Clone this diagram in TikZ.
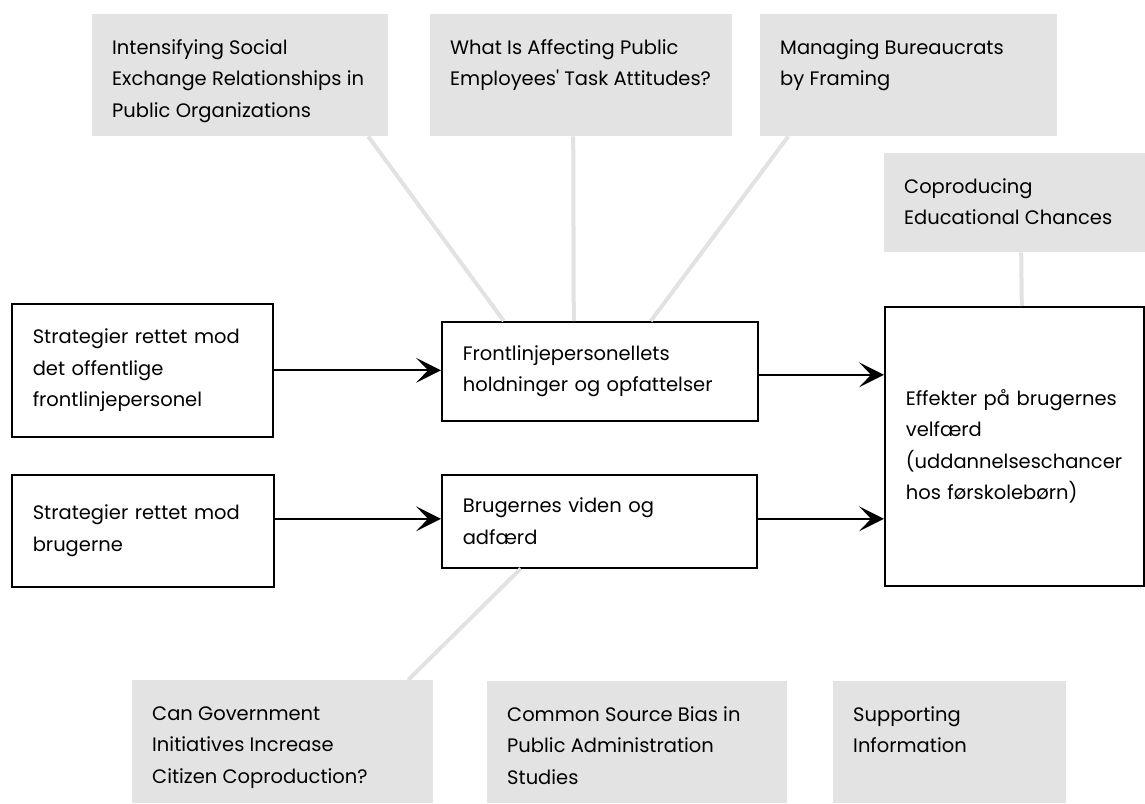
\documentclass[tikz,border=0pt]{standalone}
\usepackage{fontspec}
\newfontfamily\popfont{Poppins}
\usetikzlibrary{arrows.meta,calc}
\definecolor{gboxc}{HTML}{E3E3E3}
\definecolor{glinec}{HTML}{E2E2E2}
\newcommand\fs{\popfont\fontsize{19.5pt}{31.5pt}\selectfont}
\newcommand\gtxt[3]{\parbox[c][#2pt][t]{#1pt}{\raggedright\rule{0pt}{40pt}#3}}
\begin{document}
\begin{tikzpicture}[x=1pt,y=-1pt,
  wbox/.style={draw=black,line width=1.6pt,fill=white,anchor=north west,align=left,inner xsep=21pt,inner ysep=0pt,font=\fs},
  gbox/.style={fill=gboxc,anchor=north west,inner xsep=20pt,inner ysep=0pt,font=\fs},
  link/.style={draw=glinec,line width=4pt},
  arr/.style={draw=black,line width=1.8pt,-{Stealth[length=25pt,width=25pt,inset=12pt]}}]
\useasboundingbox (0,0) rectangle (1145,803);
% gray reference boxes
\node[gbox] (g1) at (92,14) {\gtxt{256}{122}{Intensifying Social\\Exchange Relationships in\\Public Organizations}};
\node[gbox] (g2) at (430,14) {\gtxt{262}{122}{What Is Affecting Public\\Employees' Task Attitudes?}};
\node[gbox] (g3) at (760,14) {\gtxt{257}{122}{Managing Bureaucrats\\by Framing}};
\node[gbox] (g4) at (884,153) {\gtxt{221}{99}{Coproducing\\Educational Chances}};
\node[gbox] (g5) at (132,680) {\gtxt{261}{123}{Can Government\\Initiatives Increase\\Citizen Coproduction?}};
\node[gbox] (g6) at (487,681) {\gtxt{260}{122}{Common Source Bias in\\Public Administration\\Studies}};
\node[gbox] (g7) at (833,681) {\gtxt{193}{122}{Supporting\\Information}};
% white boxes
\node[wbox,text width=219pt,minimum height=133pt] (s1) at (11,303) {Strategier rettet mod\\det offentlige\\frontlinjepersonel};
\node[wbox,text width=220pt,minimum height=112pt] (s2) at (11,474) {Strategier rettet mod\\brugerne};
\node[wbox,text width=274pt,minimum height=99pt] (front) at (441,321) {Frontlinjepersonellets\\holdninger og opfattelser};
\node[wbox,text width=273pt,minimum height=93pt] (brug) at (441,474) {Brugernes viden og\\adfærd};
\node[wbox,text width=217pt,minimum height=279pt] (eff) at (884,306) {Effekter på brugernes\\velfærd\\(uddannelseschancer\\hos førskolebørn)};
% gray links
\draw[link] ([xshift=128pt]g1.south) -- ([xshift=-96pt]front.north);
\draw[link] ([xshift=-8pt]g2.south) -- ([xshift=-26pt]front.north);
\draw[link] ([xshift=-120.5pt]g3.south) -- ([xshift=51pt]front.north);
\draw[link] ([xshift=6.5pt]g4.south) -- ([xshift=7.5pt]eff.north);
\draw[link] ([xshift=-78.5pt]brug.south) -- ([xshift=125.5pt]g5.north);
% arrows
\draw[arr] (s1.east) -- (s1.east -| front.west);
\draw[arr] ([yshift=12pt]s2.east) -- ([yshift=12pt]s2.east -| brug.west);
\draw[arr] ([yshift=-3.5pt]front.east) -- ([yshift=-3.5pt]front.east -| eff.west);
\draw[arr] ([yshift=2.5pt]brug.east) -- ([yshift=2.5pt]brug.east -| eff.west);
\end{tikzpicture}
\end{document}
